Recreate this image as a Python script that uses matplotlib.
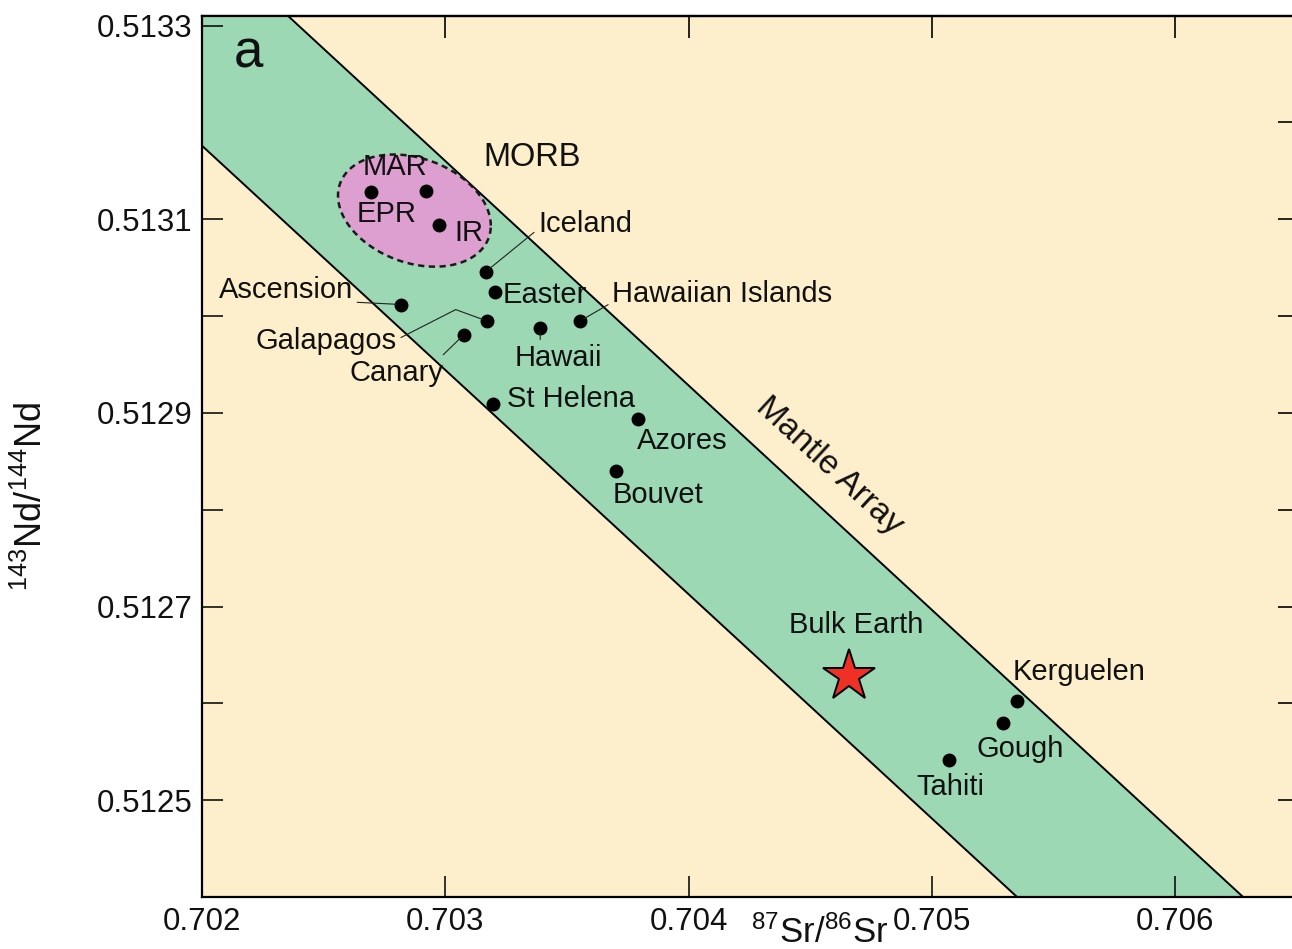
import matplotlib
matplotlib.use("Agg")
import matplotlib.pyplot as plt
import numpy as np

plt.rcParams["font.family"] = ["Liberation Sans", "DejaVu Sans"]
plt.rcParams["mathtext.fontset"] = "custom"
plt.rcParams["mathtext.rm"] = "Liberation Sans"
plt.rcParams["mathtext.it"] = "Liberation Sans:italic"

# oceanic basalt averages (87Sr/86Sr, 143Nd/144Nd)
names = ["MAR", "EPR", "IR", "Iceland", "Easter", "Ascension", "Galapagos",
         "Canary", "Hawaii", "Hawaiian Islands", "St Helena", "Azores",
         "Bouvet", "Kerguelen", "Gough", "Tahiti"]
sr = [0.702921, 0.702695, 0.702974, 0.703167, 0.703204, 0.702818, 0.703171,
      0.703077, 0.703389, 0.703554, 0.703196, 0.703792, 0.703702, 0.705350,
      0.705292, 0.705070]
nd = [0.513129, 0.513128, 0.513094, 0.513046, 0.513025, 0.513012, 0.512995,
      0.512981, 0.512988, 0.512995, 0.512909, 0.512894, 0.512840, 0.512602,
      0.512580, 0.512542]

bulk_sr = 0.70466
bulk_nd = 0.512628

# mantle array band edges (two points on each boundary line)
band_upper_sr = [0.702354, 0.706279]
band_upper_nd = [0.51331, 0.5124]
band_lower_sr = [0.702000, 0.705350]
band_lower_nd = [0.513176, 0.5124]

# MORB field
morb_sr0, morb_nd0 = 0.702873, 0.513109
morb_rsr, morb_rnd, morb_shear = 0.000314, 0.0000558, -0.0000155

x_ticks = [0.702, 0.703, 0.704, 0.705, 0.706]
y_ticks = [0.5125, 0.5127, 0.5129, 0.5131, 0.5133]
y_minor = [0.5126, 0.5128, 0.5130]
right_ticks = [0.5125, 0.5126, 0.5127, 0.5128, 0.5129, 0.5130, 0.5131, 0.5132]

cream = "#fdefcb"
green = "#9dd8b5"
pink = "#dd9ed0"
ink = "#111111"

fig = plt.figure(figsize=(12.92, 9.49), dpi=100)
ax = fig.add_axes([202 / 1292, 52 / 949, 1090 / 1292, 881 / 949])
ax.set_facecolor(cream)
ax.set_xlim(0.702, 0.70648)
ax.set_ylim(0.5124, 0.51331)

# band
yy = np.array([0.5123, 0.5134])
up_fit = np.polyfit(band_upper_nd, band_upper_sr, 1)
lo_fit = np.polyfit(band_lower_nd, band_lower_sr, 1)
ax.fill_betweenx(yy, np.polyval(lo_fit, yy), np.polyval(up_fit, yy),
                 color=green, lw=0, zorder=1)
ax.plot(np.polyval(up_fit, yy), yy, color="black", lw=1.4, zorder=2)
ax.plot(np.polyval(lo_fit, yy), yy, color="black", lw=1.4, zorder=2)

# MORB field
t = np.linspace(0, 2 * np.pi, 200)
ex = morb_sr0 + morb_rsr * np.cos(t)
ey = morb_nd0 + morb_rnd * np.sin(t) + morb_shear * np.cos(t)
ax.fill(ex, ey, facecolor=pink, edgecolor="#1a1a1a", lw=1.8,
        linestyle=(0, (2.5, 1.8)), zorder=3)

ax.plot(sr, nd, "o", color="black", ms=9, zorder=5)
ax.plot(bulk_sr, bulk_nd, "*", ms=39, mfc="#ee3124", mec="black",
        mew=1.4, zorder=5)

# label layout: offset in pixels from point, alignment, leader
layout = {
    "MAR": (-31, 16, "center", None),
    "EPR": (15, -30, "center", None),
    "IR": (30, -16, "center", None),
    "Iceland": (99, 40, "center", (0.0, 0.3)),
    "Easter": (8, -11, "left", None),
    "Ascension": (-48, 7, "right", (1.0, 0.05)),
    "Galapagos": (-90, -28, "right", (1.0, 0.55)),
    "Canary": (-21, -46, "right", (0.93, 0.9)),
    "Hawaii": (18, -38, "center", (0.3, 0.9)),
    "Hawaiian Islands": (32, 19, "left", (0.0, 0.2)),
    "St Helena": (14, -3, "left", None),
    "Azores": (-1, -30, "left", None),
    "Bouvet": (-3, -32, "left", None),
    "Kerguelen": (-4, 21, "left", None),
    "Gough": (17, -34, "center", None),
    "Tahiti": (1, -35, "center", None),
}
for name, x, y in zip(names, sr, nd):
    dx, dy, ha, rel = layout[name]
    props = None
    if rel is not None:
        props = dict(arrowstyle="-", color="#222222", lw=0.8,
                     shrinkA=1, shrinkB=3, relpos=rel)
        if name == "Galapagos":
            props["connectionstyle"] = "angle,angleA=27,angleB=-20,rad=0"
    ax.annotate(name, (x, y), xytext=(dx, dy), textcoords="offset pixels",
                ha=ha, va="baseline", fontsize=21, color=ink,
                arrowprops=props, zorder=6)

ax.annotate("Bulk Earth", (bulk_sr, bulk_nd), xytext=(7, 43),
            textcoords="offset pixels", ha="center", va="baseline",
            fontsize=21, color=ink)
ax.text(0.703356, 0.513164, "MORB", fontsize=23.5, ha="center", va="center",
        color=ink, zorder=6)
ax.text(0.704580, 0.512845, "Mantle Array", fontsize=24, ha="center",
        va="center", rotation=np.degrees(np.arctan(up_fit[0] ** -1)),
        rotation_mode="anchor", transform_rotates_text=True, color=ink)
ax.text(0.029, 0.941, "a", transform=ax.transAxes, fontsize=38,
        va="baseline", ha="left", color=ink)

# axes and ticks
ax.set_xticks(x_ticks)
ax.set_xticklabels([f"{v:.3f}" for v in x_ticks])
ax.set_yticks(y_ticks)
ax.set_yticklabels([f"{v:.4f}" for v in y_ticks])
ax.set_yticks(y_minor, minor=True)
ax.tick_params(axis="both", which="both", direction="in", length=15,
               width=1.2, labelsize=22.5, pad=7, colors=ink)
ax.spines["right"].set_visible(False)
for s in ["left", "top", "bottom"]:
    ax.spines[s].set_linewidth(1.6)

top = ax.secondary_xaxis("top")
top.set_xticks(x_ticks)
top.tick_params(direction="in", length=16, width=1.2, labeltop=False)
top.spines["top"].set_linewidth(1.6)

right = ax.secondary_yaxis("right")
right.set_yticks(right_ticks)
right.tick_params(direction="in", length=10, width=1.2, labelright=False)
right.spines["right"].set_visible(False)

ax.text(0.567, -0.040, r"$^{87}$Sr/$^{86}$Sr", transform=ax.transAxes,
        fontsize=25, ha="center", va="center", color=ink)
ax.text(-0.156, 0.455, r"$^{143}$Nd/$^{144}$Nd", transform=ax.transAxes,
        fontsize=26, ha="center", va="center", rotation=90, color=ink)

fig.savefig("out.png", dpi=100)
